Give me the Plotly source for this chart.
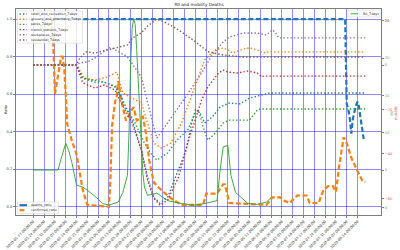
import plotly.graph_objects as go

TITLE = "R0 and mobility Deaths"

tick_dates = ["2020-01-17", "2020-01-24", "2020-01-31", "2020-02-07", "2020-02-14",
              "2020-02-21", "2020-02-28", "2020-03-06", "2020-03-13", "2020-03-20",
              "2020-03-27", "2020-04-03", "2020-04-10", "2020-04-17", "2020-04-24",
              "2020-05-01", "2020-05-08", "2020-05-15", "2020-05-22", "2020-05-29",
              "2020-06-05", "2020-06-12", "2020-06-19", "2020-06-26", "2020-07-03",
              "2020-07-10", "2020-07-17", "2020-07-24", "2020-07-31", "2020-08-07",
              "2020-08-14"]
tick_labels = [d + " 00:00:00" for d in tick_dates]

ratio_ticks = [0.0, 0.2, 0.4, 0.6, 0.8, 1.0]
ratio_labels = ["0.0", "0.2", "0.4", "0.6", "0.8", "1.0"]
r0_ticks = [0, 5, 10, 15, 20, 25]
mobility_ticks = [-60, -40, -20, 0, 20]

deaths_ratio = [("2020-01-30", 1.0), ("2020-08-06", 1.0), ("2020-08-07", 0.55), ("2020-08-08", 0.52),
                ("2020-08-09", 0.47), ("2020-08-10", 0.39), ("2020-08-11", 0.47), ("2020-08-12", 0.51),
                ("2020-08-13", 0.54), ("2020-08-14", 0.56), ("2020-08-15", 0.53), ("2020-08-16", 0.47),
                ("2020-08-17", 0.40), ("2020-08-18", 0.36)]

confirmed_ratio = [("2020-01-29", 1.0), ("2020-01-30", 0.85), ("2020-01-31", 0.60), ("2020-02-02", 0.70),
                   ("2020-02-04", 0.80), ("2020-02-05", 0.80), ("2020-02-06", 0.74), ("2020-02-07", 0.60),
                   ("2020-02-08", 0.44), ("2020-02-11", 0.35), ("2020-02-14", 0.28), ("2020-02-18", 0.09),
                   ("2020-02-21", 0.01), ("2020-03-06", 0.0), ("2020-03-07", 0.16), ("2020-03-08", 0.43),
                   ("2020-03-10", 0.56), ("2020-03-11", 0.59), ("2020-03-12", 0.67), ("2020-03-15", 0.53),
                   ("2020-03-17", 0.46), ("2020-03-21", 0.52), ("2020-03-22", 0.53), ("2020-03-24", 0.46),
                   ("2020-03-28", 0.48), ("2020-03-30", 0.39), ("2020-04-01", 0.25), ("2020-04-04", 0.13),
                   ("2020-04-10", 0.08), ("2020-04-16", 0.04), ("2020-04-22", 0.01), ("2020-05-06", 0.01),
                   ("2020-05-08", 0.07), ("2020-05-15", 0.07), ("2020-05-19", 0.12), ("2020-05-20", 0.12),
                   ("2020-05-23", 0.02), ("2020-06-16", 0.01), ("2020-06-20", 0.05), ("2020-06-25", 0.05),
                   ("2020-06-28", 0.03), ("2020-07-01", 0.02), ("2020-07-06", 0.06), ("2020-07-12", 0.06),
                   ("2020-07-14", 0.02), ("2020-07-20", 0.02), ("2020-07-21", 0.05), ("2020-07-23", 0.09),
                   ("2020-07-26", 0.11), ("2020-07-29", 0.11), ("2020-07-31", 0.08), ("2020-08-02", 0.21),
                   ("2020-08-05", 0.37), ("2020-08-07", 0.34), ("2020-08-10", 0.26), ("2020-08-14", 0.19),
                   ("2020-08-17", 0.14), ("2020-08-19", 0.13)]

r0_7days = [("2020-01-17", 5.0), ("2020-02-02", 5.0), ("2020-02-04", 6.5), ("2020-02-07", 8.6),
            ("2020-02-09", 7.6), ("2020-02-11", 6.0), ("2020-02-14", 3.0), ("2020-02-18", 2.7),
            ("2020-02-21", 2.3), ("2020-02-27", 1.3), ("2020-03-02", 0.5), ("2020-03-06", 0.3),
            ("2020-03-12", 0.7), ("2020-03-15", 2.0), ("2020-03-18", 4.3), ("2020-03-19", 10.0),
            ("2020-03-20", 19.0), ("2020-03-21", 24.0), ("2020-03-22", 25.3), ("2020-03-23", 24.5),
            ("2020-03-24", 21.0), ("2020-03-26", 13.0), ("2020-03-27", 8.5), ("2020-03-28", 4.5),
            ("2020-03-29", 2.7), ("2020-03-31", 1.6), ("2020-04-06", 1.9), ("2020-04-13", 0.9),
            ("2020-04-22", 0.5), ("2020-04-30", 0.3), ("2020-05-07", 0.5), ("2020-05-15", 0.9),
            ("2020-05-17", 5.0), ("2020-05-19", 8.1), ("2020-05-22", 8.3), ("2020-05-24", 4.3),
            ("2020-05-27", 2.0), ("2020-05-31", 1.3), ("2020-06-04", 0.5), ("2020-06-10", 0.4),
            ("2020-06-16", 0.7), ("2020-06-19", 1.3)]

retail_and_recreation_7days = [
    ("2020-01-17", 0), ("2020-02-14", 0), ("2020-02-18", -6.0), ("2020-02-26", -7.7), ("2020-03-03", -7.7),
    ("2020-03-10", -9.9), ("2020-03-14", -14.4), ("2020-03-21", -24.8), ("2020-03-27", -38.3),
    ("2020-03-31", -50.5), ("2020-04-04", -59.5), ("2020-04-08", -62.2), ("2020-04-13", -59.5),
    ("2020-04-20", -47.3), ("2020-04-25", -38.3), ("2020-04-29", -24.8), ("2020-05-01", -20.3),
    ("2020-05-04", -21.6), ("2020-05-07", -26.1), ("2020-05-12", -23.4), ("2020-05-17", -18.9),
    ("2020-05-23", -17.1), ("2020-05-30", -17.5), ("2020-06-05", -14.9), ("2020-06-12", -13.5),
    ("2020-06-18", -12.6), ("2020-08-19", -12.6)]
grocery_and_pharmacy_7days = [
    ("2020-01-17", 0), ("2020-02-14", 0), ("2020-02-16", -2.3), ("2020-02-19", -5.9), ("2020-02-26", -6.8),
    ("2020-03-05", -5.4), ("2020-03-11", -3.2), ("2020-03-15", -12.6), ("2020-03-21", -14.9),
    ("2020-03-27", -17.1), ("2020-03-31", -26.1), ("2020-04-04", -35.1), ("2020-04-09", -37.4),
    ("2020-04-15", -35.1), ("2020-04-22", -26.1), ("2020-04-29", -12.6), ("2020-05-03", -5.4),
    ("2020-05-07", 2.3), ("2020-05-14", 6.8), ("2020-05-19", 7.7), ("2020-05-22", 6.8),
    ("2020-05-25", 5.4), ("2020-06-01", 7.2), ("2020-06-05", 7.7), ("2020-06-10", 6.8),
    ("2020-06-14", 5.4), ("2020-06-17", 5.9), ("2020-08-19", 5.9)]
parks_7days = [
    ("2020-01-17", 0), ("2020-02-14", 0), ("2020-02-18", -5.9), ("2020-02-26", -6.8), ("2020-03-03", -7.7),
    ("2020-03-11", -9.9), ("2020-03-16", -18.9), ("2020-03-22", -24.8), ("2020-03-29", -35.1),
    ("2020-04-02", -39.6), ("2020-04-06", -42.8), ("2020-04-13", -39.6), ("2020-04-19", -33.8),
    ("2020-04-26", -29.3), ("2020-05-01", -21.6), ("2020-05-03", -20.3), ("2020-05-06", -27.9),
    ("2020-05-09", -33.8), ("2020-05-14", -30.6), ("2020-05-19", -26.1), ("2020-05-23", -24.8),
    ("2020-06-05", -24.8), ("2020-06-10", -20.3), ("2020-06-12", -19.8), ("2020-08-19", -19.8)]
transit_stations_7days = [
    ("2020-01-17", 0), ("2020-02-14", 0), ("2020-02-18", -8.0), ("2020-02-26", -10.4), ("2020-03-03", -9.0),
    ("2020-03-10", -11.3), ("2020-03-14", -17.1), ("2020-03-21", -26.1), ("2020-03-27", -38.3),
    ("2020-03-31", -51.8), ("2020-04-04", -59.9), ("2020-04-08", -63.1), ("2020-04-13", -60.8),
    ("2020-04-20", -50.5), ("2020-04-26", -35.1), ("2020-05-01", -24.8), ("2020-05-05", -15.8),
    ("2020-05-09", -9.9), ("2020-05-16", -3.6), ("2020-05-19", -2.3), ("2020-05-22", -3.2),
    ("2020-05-28", -3.6), ("2020-06-04", -2.7), ("2020-06-10", -3.6), ("2020-06-13", -5.4),
    ("2020-06-14", -5.0), ("2020-08-19", -5.0)]
workplaces_7days = [
    ("2020-01-17", 0), ("2020-02-14", 0), ("2020-02-16", 0.9), ("2020-02-21", 1.4), ("2020-02-27", 3.6),
    ("2020-03-06", 7.7), ("2020-03-08", 7.7), ("2020-03-18", 3.6), ("2020-03-27", -5.4),
    ("2020-03-31", -17.1), ("2020-04-04", -27.9), ("2020-04-06", -32.9), ("2020-04-13", -26.1),
    ("2020-04-22", -17.1), ("2020-04-29", -9.9), ("2020-05-05", -3.6), ("2020-05-11", 3.6),
    ("2020-05-19", 10.4), ("2020-05-23", 12.6), ("2020-06-01", 14.4), ("2020-06-10", 14.4),
    ("2020-06-16", 13.5), ("2020-06-20", 15.8), ("2020-06-22", 14.4), ("2020-06-24", 12.2),
    ("2020-08-19", 12.2)]
residential_7days = [
    ("2020-01-17", 0), ("2020-02-14", 0), ("2020-02-16", 3.0), ("2020-02-20", 5.9), ("2020-02-26", 5.4),
    ("2020-03-06", 6.8), ("2020-03-18", 9.0), ("2020-03-21", 12.0), ("2020-03-27", 14.5),
    ("2020-03-31", 17.5), ("2020-04-06", 20.7), ("2020-04-12", 19.0), ("2020-04-20", 15.8),
    ("2020-05-01", 10.5), ("2020-05-09", 6.0), ("2020-05-19", 4.5), ("2020-06-01", 3.6),
    ("2020-08-19", 3.6)]

mobility_series = [
    ("retail_and_recreation_7days", retail_and_recreation_7days, "#1f77b4"),
    ("grocery_and_pharmacy_7days", grocery_and_pharmacy_7days, "#ff7f0e"),
    ("parks_7days", parks_7days, "#2ca02c"),
    ("transit_stations_7days", transit_stations_7days, "#d62728"),
    ("workplaces_7days", workplaces_7days, "#9467bd"),
    ("residential_7days", residential_7days, "#8c564b"),
]

W, H = 400, 250
ML, MR, MT, MB = 16, 19, 9, 35
PW, PH = W - ML - MR, H - MT - MB


def px(x):
    return (x - ML) / PW


def py(y):
    return (H - MB - y) / PH


def unzip(pairs):
    return [p[0] for p in pairs], [p[1] for p in pairs]


DASH = "5px,2.5px"
DOT = "1.4px,2.1px"
FONT = "DejaVu Sans"
GRID = "rgba(0,0,255,0.45)"
SPINE = "rgb(125,125,125)"

fig = go.Figure()

x, y = unzip(deaths_ratio)
fig.add_trace(go.Scatter(x=x, y=y, name="deaths_ratio", mode="lines", yaxis="y",
                         line=dict(color="#1f77b4", width=2.2, dash=DASH), showlegend=False))
x, y = unzip(confirmed_ratio)
fig.add_trace(go.Scatter(x=x, y=y, name="confirmed_ratio", mode="lines", yaxis="y",
                         line=dict(color="#ff7f0e", width=2.2, dash=DASH), showlegend=False))
x, y = unzip(r0_7days)
fig.add_trace(go.Scatter(x=x, y=y, name="R0_7days", mode="lines", yaxis="y2",
                         line=dict(color="#2ca02c", width=0.9), showlegend=False))
for name, data, color in mobility_series:
    x, y = unzip(data)
    fig.add_trace(go.Scatter(x=x, y=y, name=name, mode="lines", yaxis="y3",
                             line=dict(color=color, width=1.4, dash=DOT), showlegend=False))

shapes = []
annotations = []


def legend_box(entries, x0, y0, x1, row_y, sym_x0, sym_x1, text_x):
    shapes.append(dict(type="rect", xref="paper", yref="paper", x0=px(x0), x1=px(x1),
                       y0=py(y0), y1=py(row_y[-1] + 3.2), layer="above",
                       fillcolor="rgba(255,255,255,0.8)", line=dict(color="rgb(215,215,215)", width=0.6)))
    for (name, color, dash, width), ry in zip(entries, row_y):
        shapes.append(dict(type="line", xref="paper", yref="paper", x0=px(sym_x0), x1=px(sym_x1),
                           y0=py(ry), y1=py(ry), layer="above",
                           line=dict(color=color, width=width, dash=dash)))
        annotations.append(dict(text=name, xref="paper", yref="paper", x=px(text_x), y=py(ry),
                                xanchor="left", yanchor="middle", showarrow=False,
                                font=dict(size=3.3, family=FONT, color="rgb(40,40,40)")))


legend_box([(n, c, DOT, 1.4) for n, _, c in mobility_series], 17.5, 11, 82.5,
           [14, 19.2, 24.4, 29.6, 34.8, 40.0], 19.5, 27, 29)
legend_box([("deaths_ratio", "#1f77b4", "solid", 2.2), ("confirmed_ratio", "#ff7f0e", DASH, 2.2)],
           17.5, 202, 58.5, [205.2, 210.2], 19.5, 27, 29)
legend_box([("R0_7days", "#2ca02c", "solid", 0.9)], 348, 10, 380, [13.8], 350.5, 358, 361)

annotations.append(dict(text="Ratio", xref="paper", yref="paper", x=px(6), y=py(110),
                        textangle=-90, showarrow=False, xanchor="center", yanchor="middle",
                        font=dict(size=3.5, family=FONT, color="rgb(40,40,40)")))
annotations.append(dict(text="mobility", xref="paper", yref="paper", x=px(396), y=py(113),
                        textangle=-90, showarrow=False, xanchor="center", yanchor="middle",
                        font=dict(size=3.5, family=FONT, color="rgb(240,90,90)")))
annotations.append(dict(text="R0", xref="paper", yref="paper", x=px(391.5), y=py(113),
                        textangle=-90, showarrow=False, xanchor="center", yanchor="middle",
                        font=dict(size=3.5, family=FONT, color="rgb(80,170,80)")))

tickfont = dict(size=3.6, family=FONT, color="rgb(60,60,60)")

fig.update_layout(
    width=W, height=H,
    margin=dict(l=ML, r=MR, t=MT, b=MB, autoexpand=False),
    paper_bgcolor="white", plot_bgcolor="white",
    showlegend=False,
    title=dict(text=TITLE, x=px(199), xanchor="center", xref="paper", y=1 - 5 / H, yanchor="middle",
               font=dict(size=4.2, family=FONT, color="rgb(30,30,30)")),
    xaxis=dict(type="date", range=["2020-01-05 19:00", "2020-08-29 05:00"],
               tickvals=tick_dates, ticktext=tick_labels, tickangle=-45, tickfont=tickfont,
               showgrid=True, gridcolor=GRID, gridwidth=1, showline=True, linecolor=SPINE,
               linewidth=1, mirror=True, ticks="outside", ticklen=2, tickcolor=SPINE, zeroline=False),
    yaxis=dict(range=[-0.044, 1.054], tickvals=ratio_ticks, ticktext=ratio_labels, tickfont=tickfont,
               showgrid=True, gridcolor=GRID, gridwidth=1, showline=True, linecolor=SPINE,
               linewidth=1, mirror=True, ticks="outside", ticklen=2, tickcolor=SPINE, zeroline=False),
    yaxis2=dict(range=[-1.03, 26.6], tickvals=r0_ticks, overlaying="y", side="right", anchor="x",
                tickfont=dict(size=3.6, family=FONT, color="rgb(80,170,80)"), showgrid=False,
                zeroline=False, ticks="outside", ticklen=2, tickcolor=SPINE, showline=False),
    yaxis3=dict(range=[-67.5, 25.2], tickvals=mobility_ticks, overlaying="y", side="right", anchor="x",
                tickfont=dict(size=3.6, family=FONT, color="rgb(240,90,90)"), showgrid=False,
                zeroline=False, ticks="outside", ticklen=2, tickcolor=SPINE, showline=False),
    shapes=shapes,
    annotations=annotations,
)

fig.write_html("out.html")
